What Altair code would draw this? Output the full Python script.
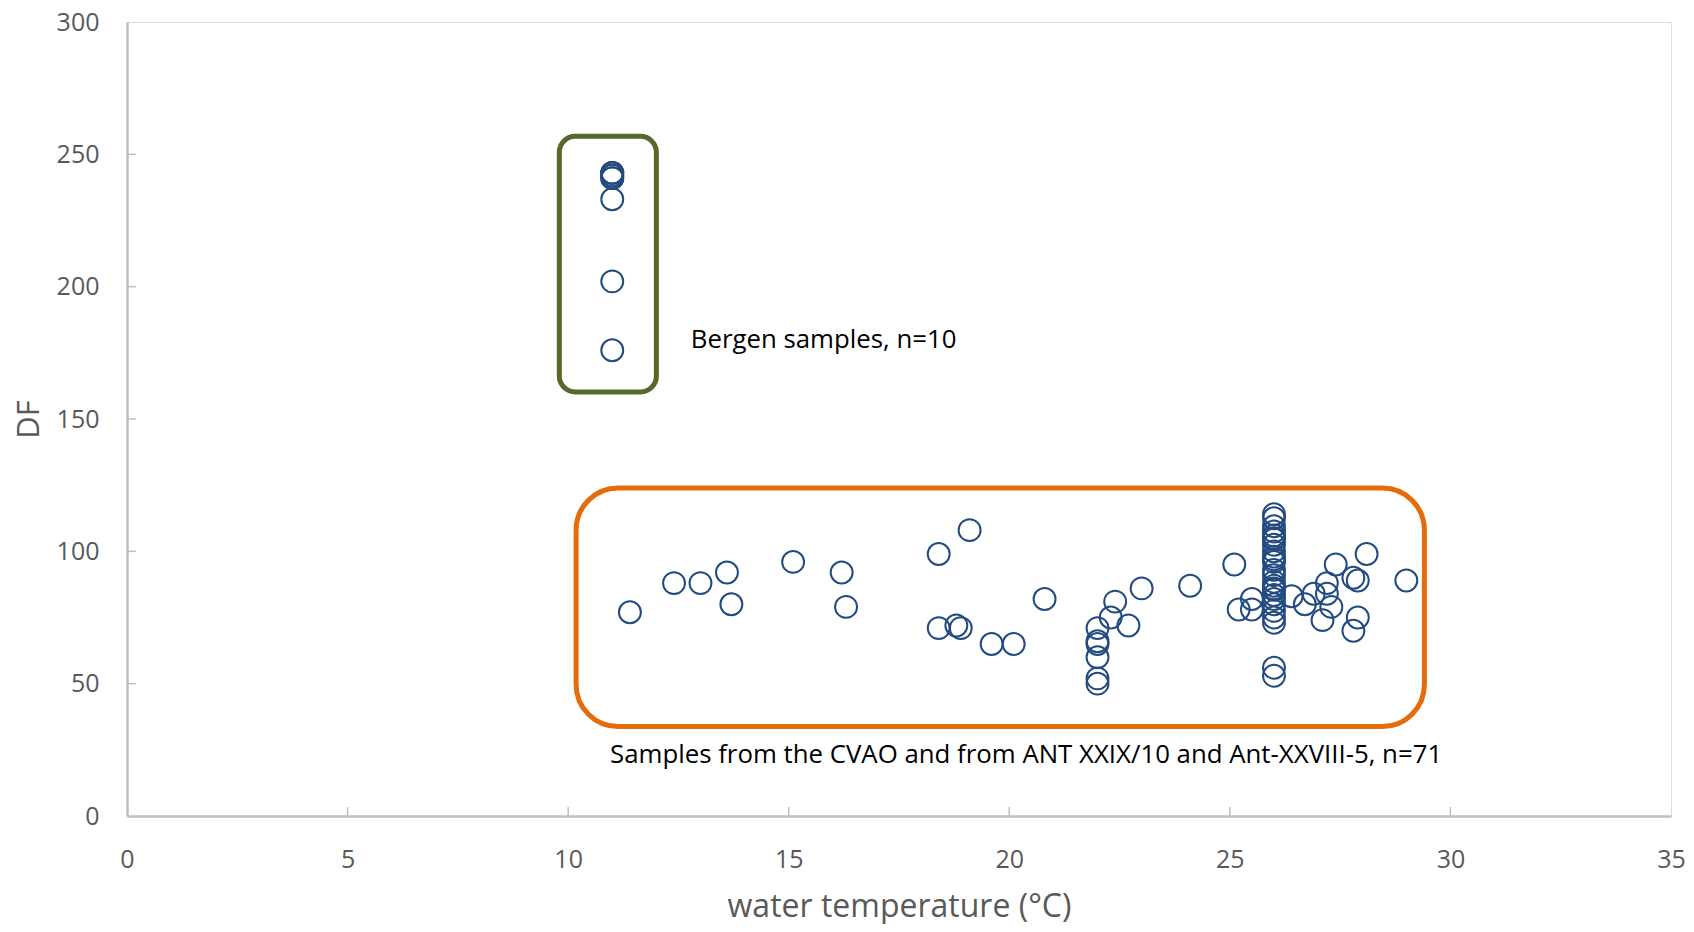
import altair as alt
import pandas as pd

# ---- data ----
bergen_temp = [11.0] * 10
bergen_df = [243, 243, 243, 242, 242, 241, 241, 233, 202, 176]

cvao_temp = [11.4, 12.4, 13.0, 13.6, 13.7, 15.1, 16.2, 16.3, 18.4, 19.1,
             18.4, 18.8, 18.9, 19.6, 20.1, 20.8,
             22.0, 22.0, 22.0, 22.0, 22.0, 22.0,
             22.3, 22.4, 22.7, 23.0, 24.1, 25.1, 25.2, 25.5, 25.5,
             26.4, 26.7, 26.9, 27.1, 27.2, 27.2, 27.3, 27.4, 27.8, 27.9,
             28.1, 27.9, 27.8, 29.0] + [26.0] * 26
cvao_df = [77, 88, 88, 92, 80, 96, 92, 79, 99, 108,
           71, 72, 71, 65, 65, 82,
           71, 66, 65, 60, 52, 50,
           75, 81, 72, 86, 87, 95, 78, 82, 78,
           83, 80, 84, 74, 88, 84, 79, 95, 90, 89,
           99, 75, 70, 89] + [114, 112.5, 109.5, 107.5, 106, 104.5, 102.5, 100, 98, 96,
                              93, 91, 88.5, 87, 85.5, 83.5, 82, 80, 77.5, 75,
                              73, 56, 53, 105, 97, 86]

x_ticks = [0, 5, 10, 15, 20, 25, 30, 35]
y_ticks = [0, 50, 100, 150, 200, 250, 300]

# annotation boxes (data coordinates) and labels
green_box = {"x": [9.8], "x2": [12.0], "y": [160.2], "y2": [256.8]}
orange_box = {"x": [10.18], "x2": [29.41], "y": [33.8], "y2": [123.9]}
label_text = ["Bergen samples, n=10",
              "Samples from the CVAO and from ANT XXIX/10 and Ant-XXVIII-5, n=71"]
label_x = [12.78, 10.95]
label_y = [179.8, 23.2]

# ---- build ----
W, H = 1544, 794
FONT = "Open Sans"
GREY = "#595959"

pts = pd.DataFrame({"t": bergen_temp + cvao_temp, "df": bergen_df + cvao_df})

xs = alt.Scale(domain=[0, 35], nice=False, zero=False)
ys = alt.Scale(domain=[0, 300], nice=False, zero=False)

xaxis = alt.Axis(values=x_ticks, ticks=False, grid=False, domainColor="#BFBFBF",
                 domainWidth=2.5, labelFont=FONT, labelFontSize=25, labelColor=GREY,
                 labelPadding=43, labelBaseline="middle", title="water temperature (°C)",
                 titleFont=FONT, titleFontSize=32, titleFontWeight="normal", titleColor=GREY,
                 titleX=W / 2, titleY=100, titleBaseline="alphabetic", titleAlign="center",
                 labelFlush=False, labelOverlap=False)
yaxis = alt.Axis(values=y_ticks, ticks=False, grid=False, domainColor="#BFBFBF",
                 domainWidth=2.5, labelFont=FONT, labelFontSize=25, labelColor=GREY,
                 labelPadding=28, labelBaseline="middle", title="DF",
                 titleFont=FONT, titleFontSize=31, titleFontWeight="normal", titleColor=GREY,
                 titleX=-98, titleY=H / 2, titleAngle=-90, titleBaseline="middle",
                 titleAlign="center", labelFlush=False, labelOverlap=False)

base_pts = alt.Chart(pts).mark_point(shape="circle", filled=False, size=480,
                                     strokeWidth=2, color="#234B80", opacity=1).encode(
    x=alt.X("t:Q", scale=xs, axis=xaxis),
    y=alt.Y("df:Q", scale=ys, axis=yaxis),
)

gb = alt.Chart(pd.DataFrame(green_box)).mark_rect(
    fillOpacity=0, stroke="#55692B", strokeWidth=5, cornerRadius=16).encode(
    x=alt.X("x:Q", scale=xs), x2="x2:Q", y=alt.Y("y:Q", scale=ys), y2="y2:Q")
ob = alt.Chart(pd.DataFrame(orange_box)).mark_rect(
    fillOpacity=0, stroke="#E46C0A", strokeWidth=5, cornerRadius=42).encode(
    x=alt.X("x:Q", scale=xs), x2="x2:Q", y=alt.Y("y:Q", scale=ys), y2="y2:Q")

labels = alt.Chart(pd.DataFrame({"txt": label_text, "x": label_x, "y": label_y})).mark_text(
    align="left", baseline="middle", font=FONT, fontSize=25.8, color="#000000").encode(
    x=alt.X("x:Q", scale=xs), y=alt.Y("y:Q", scale=ys), text="txt:N")

xt = alt.Chart(pd.DataFrame({"v": x_ticks[1:-1]})).mark_rule(color="#BFBFBF", strokeWidth=1.5).encode(
    x=alt.X("v:Q", scale=xs), y=alt.value(H), y2=alt.value(H - 9))
yt = alt.Chart(pd.DataFrame({"v": y_ticks[1:-1]})).mark_rule(color="#BFBFBF", strokeWidth=1.5).encode(
    y=alt.Y("v:Q", scale=ys), x=alt.value(0), x2=alt.value(9))

chart = alt.layer(xt, yt, gb, ob, base_pts, labels).properties(
    width=W, height=H,
    autosize=alt.AutoSizeParams(type="none"),
    padding={"left": 119, "top": 14, "right": 15, "bottom": 108},
).configure_view(stroke="#8C8C8C", strokeWidth=2).configure(background="white")

chart.save("out.html", embed_options={"renderer": "svg", "actions": False})
